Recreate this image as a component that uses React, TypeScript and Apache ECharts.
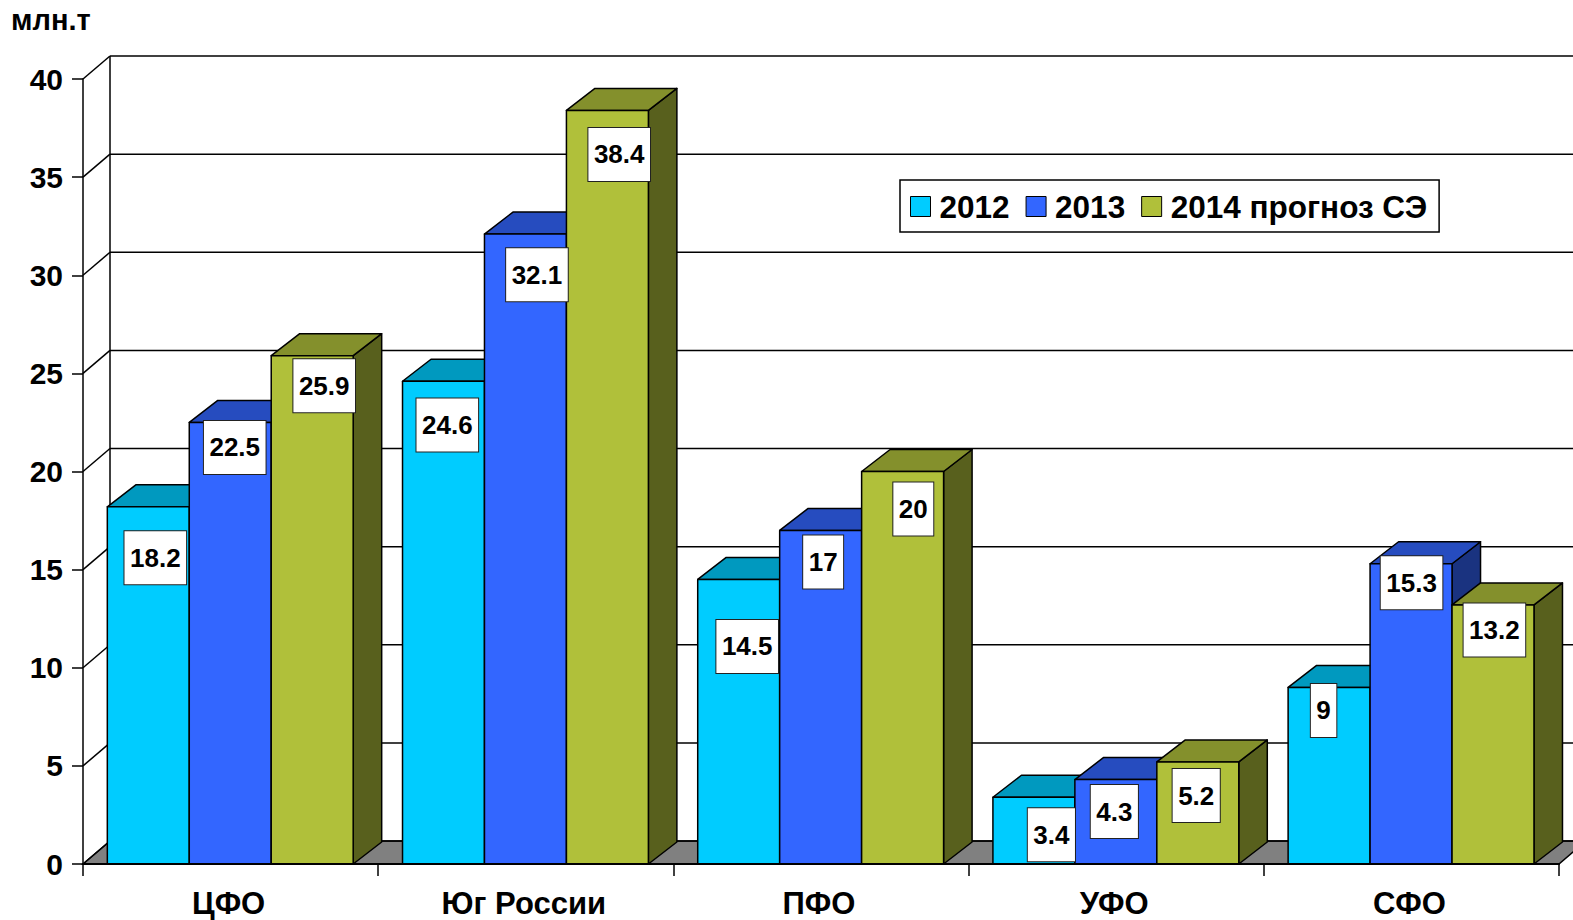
import React, { useEffect, useRef } from "react";
import * as echarts from "echarts";

const categories = ["ЦФО", "Юг России", "ПФО", "УФО", "СФО"];
const seriesNames = ["2012", "2013", "2014 прогноз СЭ"];
const values2012 = [18.2, 24.6, 14.5, 3.4, 9];
const values2013 = [22.5, 32.1, 17, 4.3, 15.3];
const values2014 = [25.9, 38.4, 20, 5.2, 13.2];
const yTicks = [0, 5, 10, 15, 20, 25, 30, 35, 40];

// Hand-placed data label offsets (from the top centre of each bar's front face)
const labelNudge2012 = [[7, 51], [3.8, 43.7], [8.5, 67], [17.5, 37.5], [-5.5, 23]];
const labelNudge2013 = [[4.5, 25], [11.5, 40.6], [2.5, 31.7], [-1.5, 32], [0.5, 19]];
const labelNudge2014 = [[12, 30], [11.8, 44], [10.7, 37.5], [-1.6, 33.6], [1.4, 25]];

const FONT = '"Liberation Sans", Arial, sans-serif';
const WALL_DX = 27;
const WALL_DY = -23;
const BAR_DX = 28.5;
const BAR_DY = -22;
const GAP_FRAC = 24.3 / 295;
const BAR_FRAC = 81.9 / 295;
const W = 1573;

const palette = [
  { front: "#00CCFF", top: "#0099BF", side: "#006680" },
  { front: "#3366FF", top: "#264CBF", side: "#1A3380" },
  { front: "#B0C03A", top: "#84902C", side: "#58601D" },
];

function barGeom(api: any, idx: number) {
  const cat = api.value(0);
  const band = api.size([1, 0])[0];
  const c = api.coord([cat, 0]);
  const t = api.coord([cat, api.value(1)]);
  const barW = band * BAR_FRAC;
  const x0 = c[0] - band / 2 + band * GAP_FRAC + idx * barW;
  return { x0, x1: x0 + barW, y0: c[1], y1: t[1], cat };
}

function barSeries(idx: number, values: number[]) {
  const col = palette[idx];
  return {
    type: "custom",
    name: seriesNames[idx],
    z: 3 + idx,
    itemStyle: { color: col.front },
    encode: { x: 0, y: 1 },
    data: values.map((v, i) => [i, v]),
    renderItem: (_p: any, api: any) => {
      const g = barGeom(api, idx);
      const line = { stroke: "#000", lineWidth: 1.5, lineJoin: "round" };
      return {
        type: "group",
        children: [
          {
            type: "polygon",
            shape: { points: [[g.x1, g.y1], [g.x1 + BAR_DX, g.y1 + BAR_DY], [g.x1 + BAR_DX, g.y0 + BAR_DY], [g.x1, g.y0]] },
            style: { fill: col.side, ...line },
          },
          {
            type: "polygon",
            shape: { points: [[g.x0, g.y1], [g.x0 + BAR_DX, g.y1 + BAR_DY], [g.x1 + BAR_DX, g.y1 + BAR_DY], [g.x1, g.y1]] },
            style: { fill: col.top, ...line },
          },
          {
            type: "rect",
            shape: { x: g.x0, y: g.y1, width: g.x1 - g.x0, height: g.y0 - g.y1 },
            style: { fill: col.front, ...line },
          },
        ],
      };
    },
  };
}

function labelSeries(idx: number, values: number[], nudge: number[][]) {
  return {
    type: "custom",
    name: "labels" + idx,
    z: 10,
    encode: { x: 0, y: 1 },
    data: values.map((v, i) => [i, v]),
    renderItem: (_p: any, api: any) => {
      const g = barGeom(api, idx);
      const n = nudge[g.cat];
      return {
        type: "text",
        x: (g.x0 + g.x1) / 2 + n[0],
        y: g.y1 + n[1],
        style: {
          text: String(api.value(1)),
          align: "center",
          verticalAlign: "middle",
          font: `bold 26px ${FONT}`,
          fill: "#000",
          lineHeight: 28,
          backgroundColor: "#fff",
          borderColor: "#222",
          borderWidth: 1,
          padding: [12.5, 5.5],
        },
      };
    },
  };
}

const frameSeries = {
  type: "custom",
  name: "frame",
  z: 1,
  silent: true,
  encode: { x: 0, y: 1 },
  data: yTicks.map((v) => [0, v]),
  renderItem: (p: any, api: any) => {
    const v = api.value(1);
    const left = p.coordSys.x;
    const right = left + p.coordSys.width;
    const y = api.coord([0, v])[1];
    const lineStyle = { stroke: "#000", lineWidth: 1.5 };
    const children: any[] = [];
    if (v === 0) {
      const topY = api.coord([0, 40])[1];
      children.push({
        type: "polygon",
        shape: { points: [[left, y], [left + WALL_DX, y + WALL_DY], [right + WALL_DX, y + WALL_DY], [right, y]] },
        style: { fill: "#808080", stroke: "#000", lineWidth: 1.5 },
      });
      children.push({
        type: "line",
        shape: { x1: left + WALL_DX, y1: y + WALL_DY, x2: left + WALL_DX, y2: topY + WALL_DY },
        style: lineStyle,
      });
    }
    children.push({
      type: "line",
      shape: { x1: left, y1: y, x2: left + WALL_DX, y2: y + WALL_DY },
      style: lineStyle,
    });
    children.push({
      type: "line",
      shape: { x1: left + WALL_DX, y1: y + WALL_DY, x2: W + 5, y2: y + WALL_DY },
      style: lineStyle,
    });
    return { type: "group", children };
  },
};

export default function App() {
  const ref = useRef<HTMLDivElement>(null);
  useEffect(() => {
    document.body.style.margin = "0";
    const chart = echarts.init(ref.current!, undefined, { renderer: "svg" });
    chart.setOption({
      animation: false,
      backgroundColor: "#fff",
      grid: { left: 83, top: 79, width: 1476, height: 785, containLabel: false },
      xAxis: {
        type: "category",
        data: categories,
        boundaryGap: true,
        axisLine: { show: true, lineStyle: { color: "#000", width: 2 } },
        axisTick: { show: true, alignWithLabel: false, length: 12, lineStyle: { color: "#000", width: 1.5 } },
        axisLabel: { color: "#000", fontFamily: FONT, fontWeight: "bold", fontSize: 31, margin: 24, interval: 0, padding: [0, 4, 0, 0] },
        splitLine: { show: false },
        z: 8,
      },
      yAxis: {
        type: "value",
        min: 0,
        max: 40,
        interval: 5,
        axisLine: { show: true, lineStyle: { color: "#000", width: 1.5 } },
        axisTick: { show: true, length: 11, lineStyle: { color: "#000", width: 1.5 } },
        axisLabel: { color: "#000", fontFamily: FONT, fontWeight: "bold", fontSize: 30, margin: 20 },
        splitLine: { show: false },
      },
      legend: {
        left: 900,
        top: 180,
        orient: "horizontal",
        data: seriesNames,
        icon: "rect",
        itemWidth: 20,
        itemHeight: 20,
        itemGap: 16,
        padding: [10.5, 12, 9.5, 10],
        backgroundColor: "#fff",
        borderColor: "#000",
        borderWidth: 1.5,
        borderRadius: 0,
        selectedMode: false,
        itemStyle: { borderColor: "#000", borderWidth: 1 },
        textStyle: { color: "#000", fontFamily: FONT, fontWeight: "bold", fontSize: 31.5, padding: [0, 0, 0, 4] },
      },
      graphic: [
        {
          type: "text",
          left: 11,
          top: 5,
          style: { text: "млн.т", fill: "#000", font: `bold 29px ${FONT}` },
        },
      ],
      series: [
        frameSeries,
        barSeries(0, values2012),
        barSeries(1, values2013),
        barSeries(2, values2014),
        labelSeries(0, values2012, labelNudge2012),
        labelSeries(1, values2013, labelNudge2013),
        labelSeries(2, values2014, labelNudge2014),
      ],
    });
    return () => chart.dispose();
  }, []);
  return <div ref={ref} style={{ width: 1573, height: 920 }} />;
}
